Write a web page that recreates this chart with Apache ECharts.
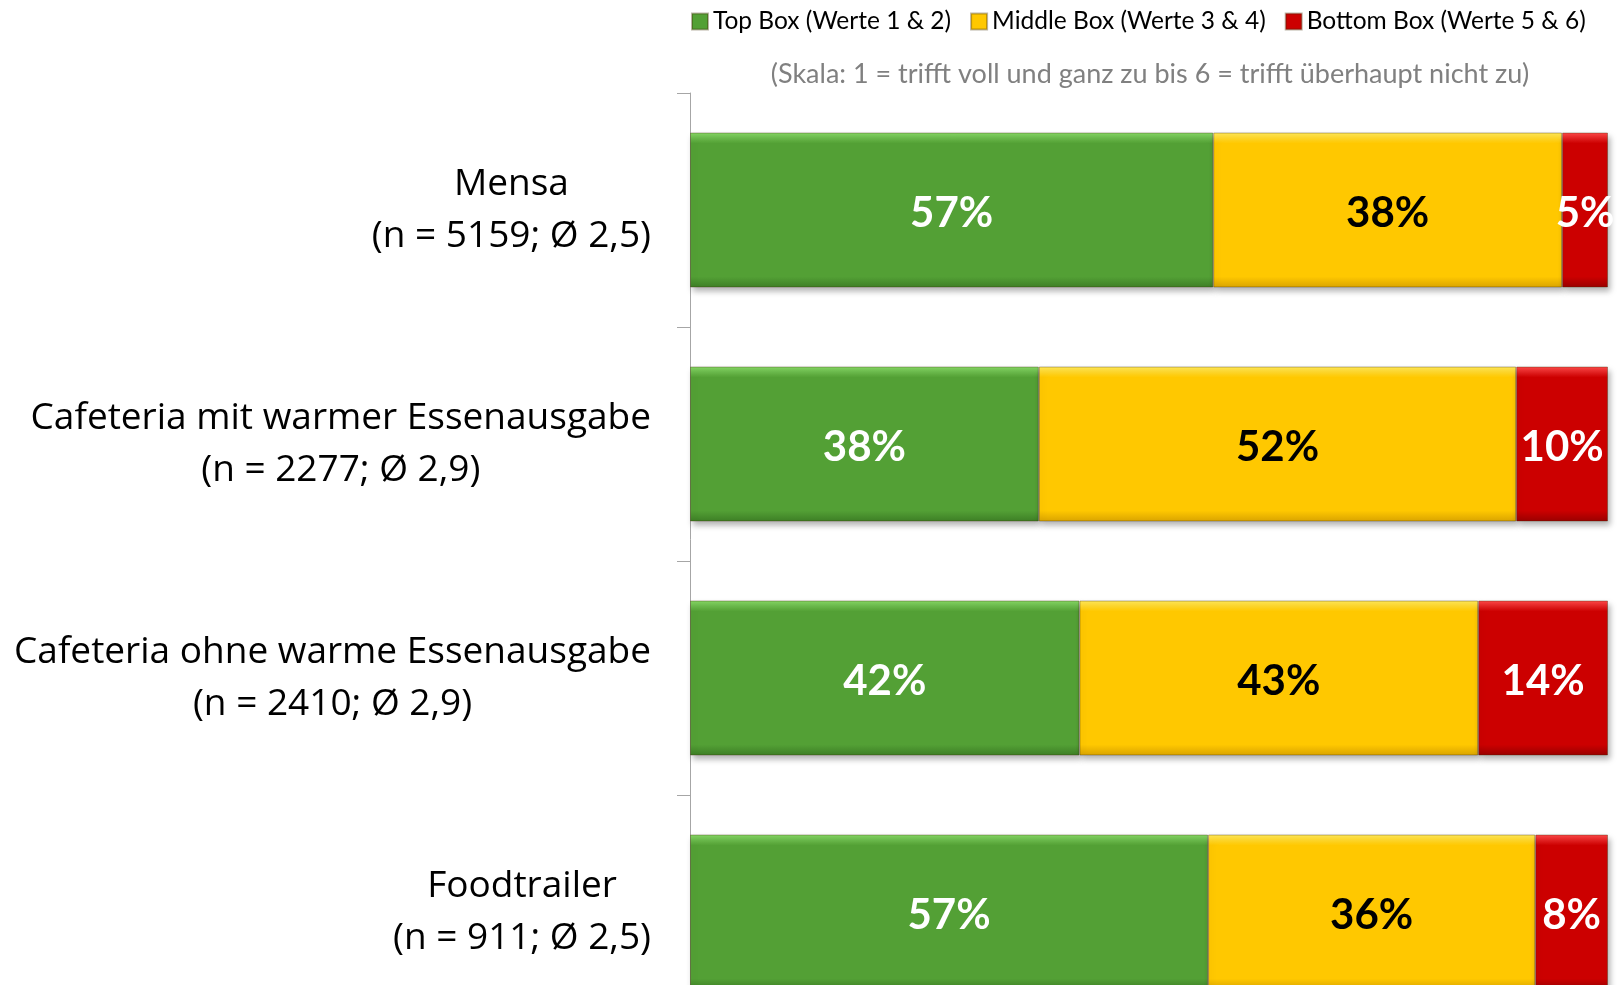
<!DOCTYPE html>
<html lang="de">
<head>
    <meta charset="UTF-8">
    <title>Zufriedenheit Verpflegungsbetriebe</title>
    <script src="https://cdn.jsdelivr.net/npm/echarts@6/dist/echarts.min.js"></script>
    <style>
        html, body { margin: 0; padding: 0; background: #fff; }
        #main { width: 1621px; height: 985px; }
    </style>
</head>
<body>
    <div id="main"></div>
    <script type="text/javascript">
        // Kategorien (Zeile 1 = Name, Zeile 2 = n und Mittelwert)
        var categories = ['Mensa', 'Cafeteria mit warmer Essenausgabe', 'Cafeteria ohne warme Essenausgabe', 'Foodtrailer'];
        var subLines = ['(n = 5159; Ø 2,5)', '(n = 2277; Ø 2,9)', '(n = 2410; Ø 2,9)', '(n = 911; Ø 2,5)'];

        // Werte in Prozent, wie beschriftet
        var topBox = [57, 38, 42, 57];
        var middleBox = [38, 52, 43, 36];
        var bottomBox = [5, 10, 14, 8];

        var seriesNames = ['Top Box (Werte 1 & 2)', 'Middle Box (Werte 3 & 4)', 'Bottom Box (Werte 5 & 6)'];

        // 100%-gestapelt wie im Original: pro Kategorie auf 100 normieren
        function share(arr, i) {
            var sum = topBox[i] + middleBox[i] + bottomBox[i];
            return arr[i] / sum * 100;
        }
        function build(arr) {
            return arr.map(function (v, i) { return { value: share(arr, i), raw: v }; });
        }

        function bevel(light, base, dark) {
            return new echarts.graphic.LinearGradient(0, 0, 0, 1, [
                { offset: 0, color: light },
                { offset: 0.07, color: base },
                { offset: 0.93, color: base },
                { offset: 1, color: dark }
            ]);
        }

        var styles = [
            { color: bevel('#86d865', '#53a035', '#3d7e25'), label: '#ffffff' },
            { color: bevel('#ffe85a', '#ffc800', '#d9a300'), label: '#000000' },
            { color: bevel('#ff4a4a', '#cc0000', '#990000'), label: '#ffffff' }
        ];

        var myChart = echarts.init(document.getElementById('main'));

        var series = [topBox, middleBox, bottomBox].map(function (arr, k) {
            return {
                name: seriesNames[k],
                type: 'bar',
                stack: 'total',
                barWidth: 155,
                data: build(arr),
                itemStyle: {
                    color: styles[k].color,
                    borderColor: 'rgba(60,40,0,0.35)',
                    borderWidth: 1,
                    shadowColor: 'rgba(0,0,0,0.3)',
                    shadowBlur: 6,
                    shadowOffsetY: 4,
                    shadowOffsetX: 2
                },
                label: {
                    show: true,
                    position: 'inside',
                    fontFamily: 'Lato',
                    fontWeight: 'bold',
                    fontSize: 42,
                    color: styles[k].label,
                    offset: [0, 3],
                    formatter: function (p) { return p.data.raw + '%'; }
                },
                emphasis: { disabled: true }
            };
        });

        var option = {
            backgroundColor: '#ffffff',
            animation: false,
            title: {
                text: '(Skala: 1 = trifft voll und ganz zu bis 6 = trifft überhaupt nicht zu)',
                left: 1145,
                top: 56,
                textAlign: 'center',
                textStyle: {
                    fontFamily: 'Lato',
                    fontWeight: 'normal',
                    fontSize: 27,
                    color: '#808080'
                }
            },
            legend: {
                data: seriesNames,
                left: 686,
                top: 4,
                icon: 'rect',
                itemWidth: 16,
                itemHeight: 16,
                itemGap: 19,
                textStyle: {
                    fontFamily: 'Lato',
                    fontSize: 24.5,
                    color: '#000000'
                }
            },
            grid: {
                left: 690,
                top: 93,
                width: 918,
                height: 936,
                outerBoundsMode: 'none'
            },
            xAxis: {
                type: 'value',
                min: 0,
                max: 100,
                show: false
            },
            yAxis: {
                type: 'category',
                inverse: true,
                data: categories,
                axisLine: { show: true, lineStyle: { color: '#a6a6a6', width: 1 } },
                axisTick: { show: true, length: 13, lineStyle: { color: '#a6a6a6' } },
                axisLabel: {
                    margin: 39,
                    align: 'right',
                    formatter: function (v, i) {
                        return '{a|' + v + '}\n{a|' + subLines[i] + '}';
                    },
                    rich: {
                        a: {
                            align: 'center',
                            fontFamily: 'Open Sans',
                            fontSize: 37,
                            lineHeight: 52,
                            color: '#000000'
                        }
                    }
                }
            },
            series: series
        };

        myChart.setOption(option);
    </script>
</body>
</html>
